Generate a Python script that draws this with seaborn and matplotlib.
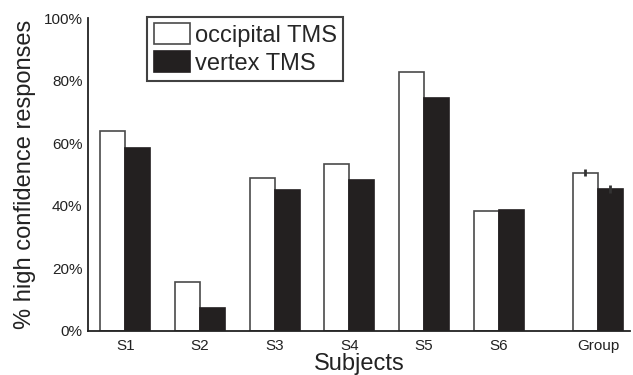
import matplotlib
matplotlib.use("Agg")
import matplotlib.pyplot as plt
import seaborn as sns
import pandas as pd
import numpy as np
from matplotlib.ticker import PercentFormatter

subjects = ["S1", "S2", "S3", "S4", "S5", "S6", "Group"]
positions = [0, 1, 2, 3, 4, 5, 6.33]
occipital = [0.640, 0.158, 0.490, 0.534, 0.826, 0.384, 0.506]
vertex = [0.584, 0.075, 0.449, 0.482, 0.743, 0.388, 0.455]
group_err_occ = 0.012
group_err_vertex = 0.013
conditions = ["occipital TMS", "vertex TMS"]

sns.set_theme(style="white")
plt.rcParams["font.family"] = ["Liberation Sans", "DejaVu Sans"]

df = pd.DataFrame({
    "pos": positions * 2,
    "value": occipital + vertex,
    "cond": [conditions[0]] * len(positions) + [conditions[1]] * len(positions),
})

fig = plt.figure(figsize=(6.33, 3.75), dpi=100)
ax = fig.add_axes([88 / 633, 1 - 331 / 375, (630 - 88) / 633, (331 - 18) / 375])

sns.barplot(data=df, x="pos", y="value", hue="cond", hue_order=conditions,
            native_scale=True, width=0.67, errorbar=None,
            palette={conditions[0]: "white", conditions[1]: "#231f20"},
            ax=ax)

edge = {conditions[0]: "#4a4a4a", conditions[1]: "#231f20"}
for patch, cond in zip(ax.patches, [c for c in conditions for _ in positions]):
    patch.set_edgecolor(edge[cond])
    patch.set_linewidth(1.2)

# group error bars
bw = 0.67 / 2
ax.errorbar([positions[-1] - bw / 2, positions[-1] + bw / 2],
            [occipital[-1], vertex[-1]],
            yerr=[group_err_occ, group_err_vertex],
            fmt="none", ecolor="#333333", elinewidth=2, capsize=0)

ax.set_xlim(-0.5, 6.76)
ax.set_ylim(0, 1.0)
ax.set_xticks(positions)
ax.set_xticklabels(subjects)
ax.set_yticks([0, 0.2, 0.4, 0.6, 0.8, 1.0])
ax.yaxis.set_major_formatter(PercentFormatter(1.0, decimals=0))
ax.tick_params(axis="both", length=0, labelsize=11, colors="#222222", pad=4)
ax.tick_params(axis="x", pad=6)
ax.set_yticks([1.0], minor=True)
ax.tick_params(axis="y", which="minor", direction="in", length=4, width=1.2, color="#222222")

for s in ["top", "right"]:
    ax.spines[s].set_visible(False)
for s in ["left", "bottom"]:
    ax.spines[s].set_color("#222222")
    ax.spines[s].set_linewidth(1.3)

ax.set_xlabel("Subjects", fontsize=17, labelpad=0, color="#222222")
ax.set_ylabel("% high confidence responses", fontsize=17, labelpad=5, color="#222222")

leg = ax.legend(loc="upper left", bbox_to_anchor=(147 / 633, 1 - 16.7 / 375),
                bbox_transform=fig.transFigure, borderaxespad=0,
                fontsize=17, frameon=True, fancybox=False,
                handlelength=1.52, handleheight=1.0, handletextpad=0.22,
                labelspacing=0.18, borderpad=0.28, title=None)
leg.get_frame().set_edgecolor("#111111")
leg.get_frame().set_linewidth(1.5)
for h, cond in zip(leg.legend_handles, conditions):
    h.set_edgecolor(edge[cond])
    h.set_linewidth(1.2)

fig.savefig("out.png", dpi=100)
